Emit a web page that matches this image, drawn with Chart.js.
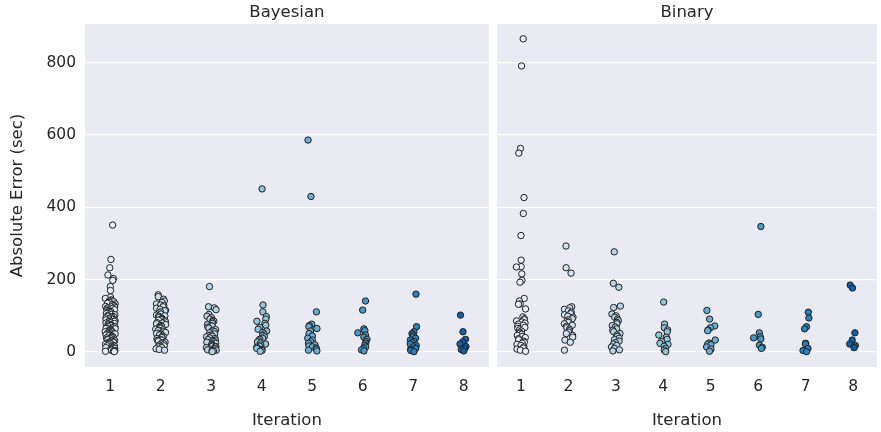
<!DOCTYPE html>
<html><head><meta charset="utf-8">
<script src="https://cdn.jsdelivr.net/npm/chart.js@4/dist/chart.umd.min.js"></script>
<style>
body{margin:0;background:#fff;width:881px;height:432px;overflow:hidden;position:relative}
canvas{position:absolute;top:0}
</style></head><body>
<canvas id="c1" width="493" height="432" style="left:0"></canvas>
<canvas id="c2" width="388" height="432" style="left:493px"></canvas>
<script>
const iterations = [1,2,3,4,5,6,7,8];
const yTicks = [0,200,400,600,800];
const panelTitles = ['Bayesian','Binary'];

// Bayesian: absolute error (sec) per iteration
const bay1 = [351,256,233,213,203,198,181,170,152,148,144,143,141,139,138,137,135,133,131,129,128,126,125,124,122,121,119,117,115,114,112,111,109,108,106,104,103,101,99,98,97,96,94,93,91,90,89,88,86,85,84,83,81,80,79,78,76,75,74,73,71,70,69,67,66,65,64,62,61,60,59,57,56,55,54,52,51,50,49,47,46,45,44,42,41,40,39,37,36,35,34,32,31,30,28,27,26,25,23,22,21,20,18,17,16,15,13,12,11,10,8,7,6,5,4,3,2,2,1];
const bay2 = [158,153,146,141,137,133,130,128,125,121,118,115,114,111,108,105,102,100,99,96,93,91,90,88,86,83,81,80,78,76,73,71,70,68,66,63,61,60,59,56,54,52,51,49,47,44,43,42,40,37,35,33,32,30,27,25,24,22,19,17,15,14,12,9,7,5];
const bay3 = [181,125,122,117,104,99,95,91,87,85,83,79,76,73,72,69,66,62,59,58,56,53,50,47,45,44,42,39,37,34,33,32,29,27,25,24,22,20,18,16,15,14,12,10,9,8,6,5,4,3,1];
const bay4 = [451,130,111,98,91,85,79,74,68,63,58,54,50,46,42,38,35,31,28,25,22,19,16,13,10,7,4,2];
const bay5 = [586,430,111,77,73,70,65,58,51,44,38,33,28,24,20,17,14,11,8,5,3];
const bay6 = [141,116,64,59,53,47,41,35,29,24,19,14,10,6,3];
const bay7 = [160,70,56,51,47,42,38,33,29,26,22,18,14,10,7,4,1];
const bay8 = [102,56,35,28,22,15,10,7,3];

// Binary: absolute error (sec) per iteration
const bin1 = [866,791,563,550,427,383,322,254,236,235,216,198,193,148,141,133,132,119,97,92,89,86,83,80,77,74,71,68,65,61,58,55,52,49,46,43,40,37,34,30,27,24,21,18,14,11,8,5,2];
const bin2 = [293,233,218,125,122,118,114,110,106,103,99,96,92,89,85,82,78,74,71,67,63,59,55,51,46,41,33,27,5];
const bin3 = [277,190,179,127,123,105,100,96,91,87,82,78,73,69,64,60,56,51,47,43,38,34,30,26,22,18,14,10,6,3];
const bin4 = [138,77,67,61,56,47,41,35,29,24,21,16,10,5,1];
const bin5 = [115,91,72,67,61,59,33,25,22,20,14,8,2];
const bin6 = [347,104,53,42,39,36,19,13,10];
const bin7 = [110,94,70,64,24,22,10,4,1];
const bin8 = [185,177,53,33,22,18,12];

const colors = ['#e3eef9','#cfe1f2','#b5d4e9','#93c4de','#6aaed6','#4a98c9','#2e7ebc','#1460a8'];
const edge = '#1f1f1f';
const txt = '#262626';

Chart.defaults.font.family = "'DejaVu Sans', sans-serif";
Chart.defaults.color = txt;

// deterministic strip jitter (within ±0.1 of the category width)
function jitter(i){
  const h = Math.sin((i + 1) * 12.9898 + 78.233) * 43758.5453;
  return ((h - Math.floor(h)) - 0.5) * 0.2;
}

function makeDatasets(series){
  return series.map((vals,k)=>({
    label: 'Iteration ' + iterations[k],
    data: vals.map((v,i)=>({x: iterations[k] + jitter(i + k * 37), y: v})),
    backgroundColor: colors[k],
    borderColor: edge,
    borderWidth: 1,
    pointRadius: 3.2,
    pointHoverRadius: 3.2
  }));
}

const bgPlugin = {
  id: 'bg',
  beforeDraw(chart){
    const a = chart.chartArea, ctx = chart.ctx;
    ctx.save(); ctx.fillStyle = '#eaeaf2';
    ctx.fillRect(a.left, a.top, a.right - a.left, a.bottom - a.top);
    ctx.restore();
  }
};

function makeChart(id, series, title, isLeft){
  return new Chart(document.getElementById(id), {
    type: 'scatter',
    data: { datasets: makeDatasets(series) },
    plugins: [bgPlugin],
    options: {
      responsive: false, animation: false, devicePixelRatio: 1,
      layout: { padding: { top: 0, right: isLeft ? 3 : 0, bottom: 0, left: 0 } },
      plugins: {
        legend: { display: false }, tooltip: { enabled: false },
        title: { display: true, text: title, fullSize: false, color: txt,
          font: { size: 16.5, weight: 'normal' }, padding: { top: 3, bottom: 1.2 } }
      },
      scales: {
        x: {
          type: 'linear', min: 0.5, max: 8.5,
          afterBuildTicks(s){ s.ticks = iterations.map(v=>({value:v})); },
          afterFit(s){ s.height = 65; },
          grid: { display: false }, border: { display: false },
          ticks: { color: txt, font: { size: 15.5 }, padding: 3 },
          title: { display: true, text: 'Iteration', color: txt, font: { size: 16.5 }, padding: { top: 0, bottom: 1 } }
        },
        y: {
          min: -41.5, max: 907,
          afterBuildTicks(s){ s.ticks = yTicks.map(v=>({value:v})); },
          afterFit(s){ s.width = isLeft ? 85 : 4; },
          grid: { color: '#ffffff', lineWidth: 1.2, drawTicks: false },
          border: { display: false },
          ticks: { display: isLeft, color: txt, font: { size: 15.5 }, padding: 9 },
          title: { display: isLeft, text: 'Absolute Error (sec)', color: txt, font: { size: 16.5 }, padding: { top: 7.5, bottom: 0 } }
        }
      }
    }
  });
}

makeChart('c1', [bay1,bay2,bay3,bay4,bay5,bay6,bay7,bay8], panelTitles[0], true);
makeChart('c2', [bin1,bin2,bin3,bin4,bin5,bin6,bin7,bin8], panelTitles[1], false);
</script>
</body></html>
